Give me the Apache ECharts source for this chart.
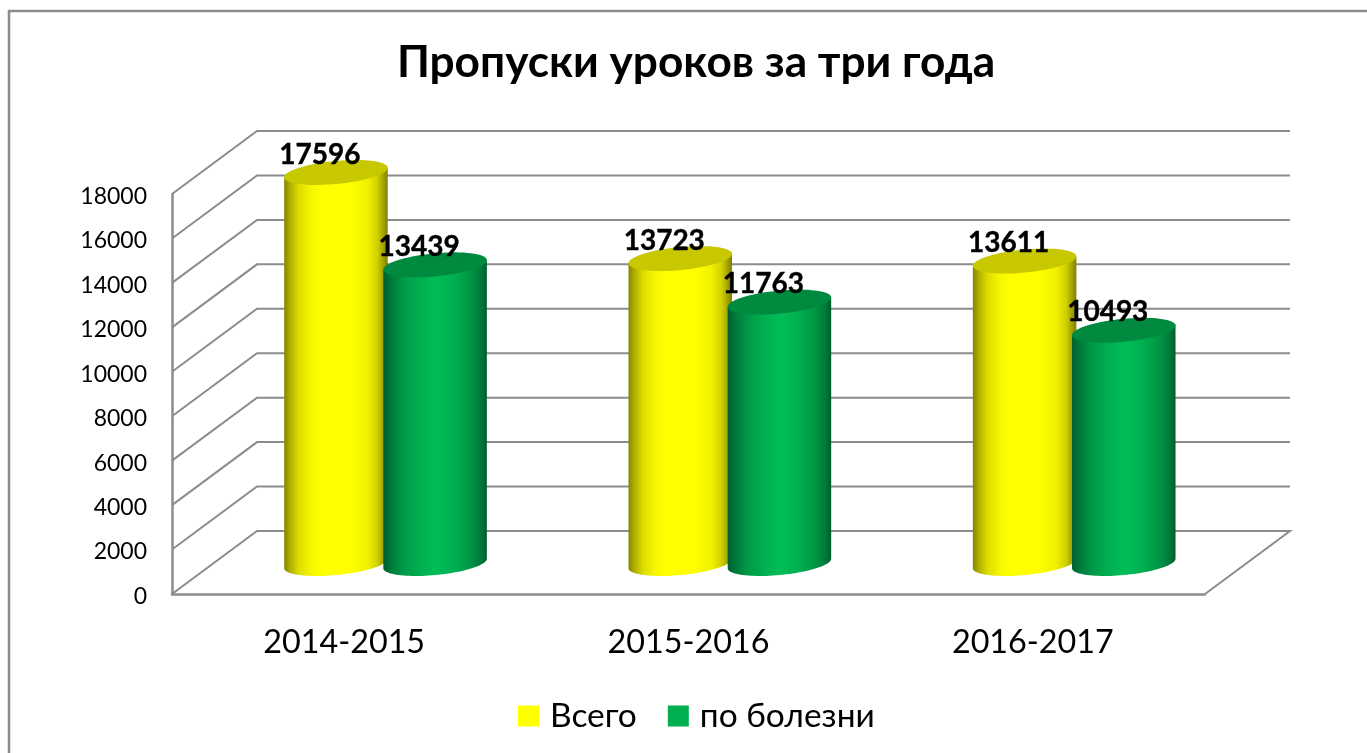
<!DOCTYPE html>
<html><head><meta charset="utf-8">
<style>html,body{margin:0;padding:0;background:#fff}#c{width:1367px;height:753px}</style>
<script src="https://cdn.jsdelivr.net/npm/echarts@6/dist/echarts.min.js"></script>
</head><body><div id="c"></div>
<script>
const categories = ['2014-2015', '2015-2016', '2016-2017'];
const totalValues = [17596, 13723, 13611];
const illnessValues = [13439, 11763, 10493];
const gridValues = [0, 2000, 4000, 6000, 8000, 10000, 12000, 14000, 16000, 18000];
const seriesNames = ['Всего', 'по болезни'];

const FONT = 'Lato, "Noto Sans", sans-serif';
const DEPTH = {x: 85, y: -63};
const MID = {x: 41, y: -30.5};
const TILT = 5.5 * Math.PI / 180;

const yellowGrad = [[0,'#858500'],[.06,'#b0b000'],[.14,'#dcdc00'],[.26,'#f6f600'],[.36,'#ffff00'],[.62,'#ffff00'],[.8,'#f2f200'],[.9,'#d0d000'],[1,'#808000']];
const greenGrad = [[0,'#005f2c'],[.08,'#007a3a'],[.2,'#009a48'],[.36,'#00b050'],[.5,'#00bd58'],[.68,'#00b050'],[.84,'#009646'],[.94,'#007a3a'],[1,'#005f2c']];

function ellipsePoint(cx, cy, a, b, t) {
  return [
    cx + a * Math.cos(t) * Math.cos(TILT) + b * Math.sin(t) * Math.sin(TILT),
    cy - a * Math.cos(t) * Math.sin(TILT) + b * Math.sin(t) * Math.cos(TILT)
  ];
}
function ellipsePts(cx, cy, a, b, from, to, n) {
  const pts = [];
  for (let i = 0; i <= n; i++) pts.push(ellipsePoint(cx, cy, a, b, from + (to - from) * i / n));
  return pts;
}

function cylinder(grad, topColor, shift) {
  return function (params, api) {
    const idx = api.value(0), val = api.value(1);
    const step = api.size([1, 0])[0];
    const top = api.coord([idx, val]);
    const base = api.coord([idx, 0]);
    const cx = top[0] + MID.x + step * shift;
    const topY = top[1] + MID.y, baseY = base[1] + MID.y;
    const a = step * 0.151, b = 11.5;
    const t0 = Math.atan2(b * Math.sin(TILT), a * Math.cos(TILT));
    const lower = ellipsePts(cx, baseY, a, b, t0, Math.PI + t0, 48);
    const topFull = ellipsePts(cx, topY, a, b, 0, Math.PI * 2, 72);
    const upperL = ellipsePoint(cx, topY, a, b, Math.PI + t0);
    const upperR = ellipsePoint(cx, topY, a, b, t0);
    return {
      type: 'group',
      children: [
        {type: 'polygon', shape: {points: [upperR].concat(lower, [upperL])},
          style: {fill: new echarts.graphic.LinearGradient(0, 0, 1, 0, grad.map(s => ({offset: s[0], color: s[1]})))}},
        {type: 'polygon', shape: {points: topFull}, style: {fill: topColor}}
      ]
    };
  };
}

function labelItem(shift) {
  return function (params, api) {
    const idx = api.value(0), val = api.value(1);
    const step = api.size([1, 0])[0];
    const top = api.coord([idx, val]);
    return {
      type: 'text',
      x: top[0] + MID.x + step * shift - 16,
      y: top[1] + MID.y - 18,
      style: {text: String(val), fill: '#000', stroke: '#000', lineWidth: 0.4, font: 'bold 28px ' + FONT, textAlign: 'center', textVerticalAlign: 'middle'}
    };
  };
}

function wallItem(params, api) {
  const val = api.value(0);
  const y = api.coord([0, val])[1];
  const g = params.coordSys;
  const stroke = {stroke: '#8c8c8c', lineWidth: 2, fill: 'none'};
  const pts = [[g.x, y], [g.x + DEPTH.x, y + DEPTH.y], [g.x + g.width + DEPTH.x, y + DEPTH.y]];
  if (val === 0) pts.push([g.x + g.width, y]);
  return {type: 'polyline', shape: {points: pts}, style: stroke, silent: true};
}

const chart = echarts.init(document.getElementById('c'), null, {renderer: 'canvas'});
chart.setOption({
  animation: false,
  backgroundColor: '#ffffff',
  title: {text: 'Пропуски уроков за три года', left: 691, top: 36, textAlign: 'center',
    textStyle: {fontFamily: FONT, fontWeight: 'bold', fontSize: 44.2, color: '#000'}},
  legend: {left: 513, top: 694, icon: 'rect', itemWidth: 21, itemHeight: 21, itemGap: 31,
    data: seriesNames, selectedMode: false,
    textStyle: {fontFamily: FONT, fontSize: 33.5, color: '#000', padding: [0, 0, 0, 6]}},
  grid: {left: 172, top: 194, width: 1033, height: 400, containLabel: false},
  xAxis: {type: 'category', data: categories,
    axisTick: {show: false},
    axisLine: {lineStyle: {color: '#8c8c8c', width: 2.5}},
    axisLabel: {fontFamily: FONT, fontSize: 32.3, color: '#000', margin: 33},
    splitLine: {show: false}},
  yAxis: {type: 'value', min: 0, max: 18000, interval: 2000,
    axisLine: {show: true, lineStyle: {color: '#8c8c8c', width: 2.5}},
    axisTick: {show: false}, splitLine: {show: false},
    axisLabel: {fontFamily: FONT, fontSize: 23, color: '#000', margin: 25, verticalAlign: 'top', lineHeight: 5, formatter: v => String(v)}},
  series: [
    {type: 'custom', name: 'walls', z: 1, silent: true, data: gridValues.map(v => [v]), encode: {y: 0}, renderItem: wallItem},
    {type: 'custom', name: seriesNames[0], z: 2, itemStyle: {color: '#ffff00'}, data: totalValues.map((v, i) => [i, v]),
      encode: {x: 0, y: 1}, renderItem: cylinder(yellowGrad, '#c8c800', -0.143)},
    {type: 'custom', name: seriesNames[1], z: 3, itemStyle: {color: '#00b050'}, data: illnessValues.map((v, i) => [i, v]),
      encode: {x: 0, y: 1}, renderItem: cylinder(greenGrad, '#008a40', 0.145)},
    {type: 'custom', name: 'labels-total', z: 4, silent: true, data: totalValues.map((v, i) => [i, v]), encode: {x: 0, y: 1}, renderItem: labelItem(-0.143)},
    {type: 'custom', name: 'labels-illness', z: 4, silent: true, data: illnessValues.map((v, i) => [i, v]), encode: {x: 0, y: 1}, renderItem: labelItem(0.145)}
  ],
  graphic: [{type: 'rect', z: 0, silent: true, shape: {x: 9, y: 11, width: 1400, height: 800}, style: {fill: 'none', stroke: '#8c8c8c', lineWidth: 2.5}}]
});
</script></body></html>
